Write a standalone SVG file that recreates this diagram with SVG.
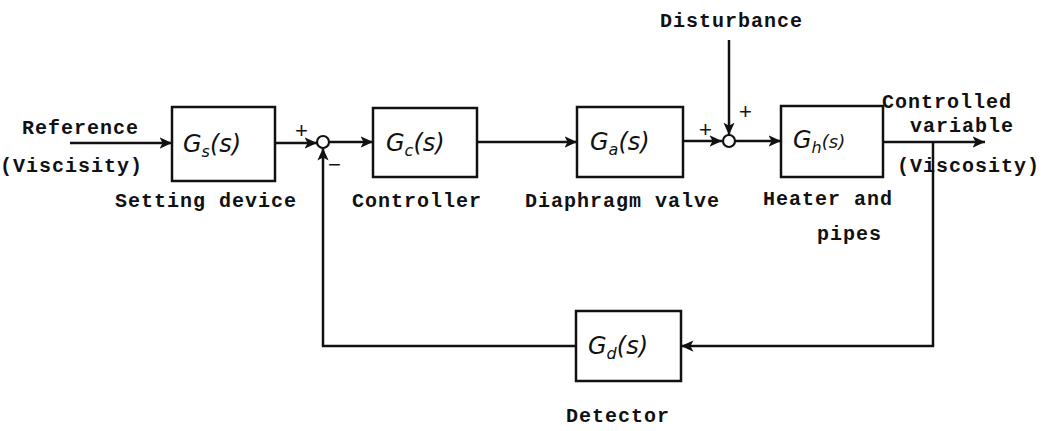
<svg xmlns="http://www.w3.org/2000/svg" width="1041" height="431" viewBox="0 0 1041 431">
<style>
.bx{fill:none;stroke:#111;stroke-width:2.5}
.ln{fill:none;stroke:#111;stroke-width:2.5}
.lbl{font-family:"Liberation Mono",monospace;font-weight:bold;font-size:20px;letter-spacing:1px;fill:#111}
.tf{font-family:"DejaVu Sans","Liberation Sans",sans-serif;font-style:italic;font-size:24px;fill:#111}
.sub{font-size:16px}
.sg{font-family:"Liberation Sans",sans-serif;font-size:22px;fill:#111}
.sj{fill:#fff;stroke:#111;stroke-width:2.2}
</style>
<defs>
<marker id="ah" viewBox="0 0 10 10" refX="10" refY="5" markerWidth="5" markerHeight="5" orient="auto" markerUnits="strokeWidth">
<path d="M0,0.5 L10,5 L0,9.5 L2.5,5 Z" fill="#111"/>
</marker>
</defs>
<rect width="1041" height="431" fill="#fff"/>
<g id="connectors">
<path class="ln" d="M70,143 H172" marker-end="url(#ah)"/>
<path class="ln" d="M275,143 H317" marker-end="url(#ah)"/>
<path class="ln" d="M329,142 H373" marker-end="url(#ah)"/>
<path class="ln" d="M477,142 H577" marker-end="url(#ah)"/>
<path class="ln" d="M683,141 H722" marker-end="url(#ah)"/>
<path class="ln" d="M729,40 V135" marker-end="url(#ah)"/>
<path class="ln" d="M735,141 H781" marker-end="url(#ah)"/>
<path class="ln" d="M883,142 H985" marker-end="url(#ah)"/>
<path class="ln" d="M933,142 V346 H681" marker-end="url(#ah)"/>
<path class="ln" d="M576,346 H323 V148" marker-end="url(#ah)"/>
</g>
<g id="sum1">
<circle class="sj" cx="323" cy="142" r="6"/>
<text class="sg" x="295" y="138">+</text>
<text class="sg" x="328" y="172">−</text>
</g>
<g id="sum2">
<circle class="sj" cx="729" cy="141" r="6"/>
<text class="sg" x="699" y="137">+</text>
<text class="sg" x="739" y="119">+</text>
</g>
<g id="input">
<text class="lbl" x="22" y="134">Reference</text>
<text class="lbl" x="0" y="172">(Viscisity)</text>
</g>
<g id="setting">
<rect class="bx" x="172" y="107" width="103" height="74"/>
<text class="tf" x="183" y="152">G<tspan class="sub" dy="5">s</tspan><tspan dy="-5">(s)</tspan></text>
<text class="lbl" x="115" y="207">Setting device</text>
</g>
<g id="controller">
<rect class="bx" x="373" y="108" width="104" height="69"/>
<text class="tf" x="386" y="151">G<tspan class="sub" dy="5">c</tspan><tspan dy="-5">(s)</tspan></text>
<text class="lbl" x="352" y="207">Controller</text>
</g>
<g id="valve">
<rect class="bx" x="577" y="107" width="106" height="70"/>
<text class="tf" x="590" y="150">G<tspan class="sub" dy="5">a</tspan><tspan dy="-5">(s)</tspan></text>
<text class="lbl" x="525" y="207">Diaphragm valve</text>
</g>
<g id="heater">
<rect class="bx" x="781" y="106" width="102" height="71"/>
<text class="tf" x="793" y="148">G<tspan class="sub" dy="5">h</tspan><tspan dy="-5" font-size="18">(s)</tspan></text>
<text class="lbl" x="763" y="205">Heater and</text>
<text class="lbl" x="817" y="240">pipes</text>
</g>
<g id="disturbance">
<text class="lbl" x="660" y="27">Disturbance</text>
</g>
<g id="output">
<text class="lbl" x="882" y="108">Controlled</text>
<text class="lbl" x="910" y="132">variable</text>
<text class="lbl" x="897" y="172">(Viscosity)</text>
</g>
<g id="detector">
<rect class="bx" x="576" y="311" width="105" height="70"/>
<text class="tf" x="588" y="354">G<tspan class="sub" dy="5">d</tspan><tspan dy="-5">(s)</tspan></text>
<text class="lbl" x="566" y="422">Detector</text>
</g>
</svg>
